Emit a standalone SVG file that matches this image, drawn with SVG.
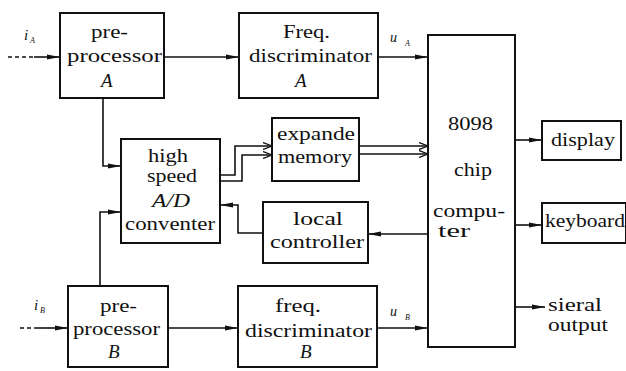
<svg xmlns="http://www.w3.org/2000/svg" width="626" height="371" viewBox="0 0 626 371">
<style>
.box{fill:#fff;stroke:#111;stroke-width:2}
.t{font-family:"Liberation Serif","Times New Roman",serif;font-size:19px;fill:#111}
.i{font-style:italic}
.lb{font-family:"Liberation Serif","Times New Roman",serif;font-style:italic;fill:#111}
.ln{fill:none;stroke:#111;stroke-width:1.6}
.ds{fill:none;stroke:#111;stroke-width:1.4;stroke-dasharray:4 3}
</style>
<defs>
<marker id="ah" markerUnits="userSpaceOnUse" markerWidth="14" markerHeight="8" refX="13" refY="4" orient="auto">
<path d="M0,1.5 L13,4 L0,6.5 z" fill="#111"/>
</marker>
<marker id="op" markerUnits="userSpaceOnUse" markerWidth="10" markerHeight="8" refX="9" refY="4" orient="auto">
<path d="M0,0.5 L9,4 L0,7.5" fill="none" stroke="#111" stroke-width="1.3"/>
</marker>
</defs>
<rect width="626" height="371" fill="#fff"/>
<g id="connectors">
<path class="ds" d="M8,57 H36"/>
<path class="ln" d="M34,57 H60" marker-end="url(#ah)"/>
<path class="ln" d="M164,57 H239" marker-end="url(#ah)"/>
<path class="ln" d="M378,57 H428" marker-end="url(#ah)"/>
<path class="ln" d="M103,98 V166 H121" marker-end="url(#ah)"/>
<path class="ln" d="M100,286 V212 H121" marker-end="url(#ah)"/>
<path class="ln" d="M220,175 H235 V146 H272" marker-end="url(#op)"/>
<path class="ln" d="M220,181 H242 V155 H272" marker-end="url(#op)"/>
<path class="ln" d="M359,146 H428" marker-end="url(#op)"/>
<path class="ln" d="M359,154 H428" marker-end="url(#op)"/>
<path class="ln" d="M428,234 H368" marker-end="url(#ah)"/>
<path class="ln" d="M263,233 H238 V205 H220" marker-end="url(#ah)"/>
<path class="ln" d="M515,140 H542" marker-end="url(#ah)"/>
<path class="ln" d="M515,225 H542" marker-end="url(#ah)"/>
<path class="ln" d="M515,307 H545" marker-end="url(#ah)"/>
<path class="ds" d="M20,328 H40"/>
<path class="ln" d="M38,328 H68" marker-end="url(#ah)"/>
<path class="ln" d="M168,328 H238" marker-end="url(#ah)"/>
<path class="ln" d="M377,328 H428" marker-end="url(#ah)"/>
<text class="lb" x="24" y="40" font-size="15">i</text><text class="lb" x="30" y="43" font-size="8">A</text>
<text class="lb" x="390" y="42" font-size="14">u</text><text class="lb" x="405" y="46" font-size="8">A</text>
<text class="lb" x="34" y="310" font-size="15">i</text><text class="lb" x="40" y="313" font-size="8">B</text>
<text class="lb" x="390" y="316" font-size="14">u</text><text class="lb" x="405" y="320" font-size="8">B</text>
<text class="t" x="548" y="311" textLength="54" lengthAdjust="spacingAndGlyphs">sieral</text>
<text class="t" x="548" y="331" textLength="60" lengthAdjust="spacingAndGlyphs">output</text>
</g>
<g id="preA">
<rect class="box" x="60" y="13" width="104" height="85"/>
<text class="t" x="91" y="38" textLength="37" lengthAdjust="spacingAndGlyphs">pre-</text>
<text class="t" x="67" y="62" textLength="95" lengthAdjust="spacingAndGlyphs">processor</text>
<text class="t i" x="101" y="87">A</text>
</g>
<g id="freqA">
<rect class="box" x="239" y="13" width="139" height="85"/>
<text class="t" x="283" y="38" textLength="47" lengthAdjust="spacingAndGlyphs">Freq.</text>
<text class="t" x="249" y="62" textLength="123" lengthAdjust="spacingAndGlyphs">discriminator</text>
<text class="t i" x="295" y="87">A</text>
</g>
<g id="adc">
<rect class="box" x="121" y="139" width="99" height="104"/>
<text class="t" x="148" y="162" textLength="40" lengthAdjust="spacingAndGlyphs">high</text>
<text class="t" x="147" y="182" textLength="50" lengthAdjust="spacingAndGlyphs">speed</text>
<text class="t i" x="152" y="207" textLength="38" lengthAdjust="spacingAndGlyphs">A/D</text>
<text class="t" x="125" y="230" textLength="90" lengthAdjust="spacingAndGlyphs">conventer</text>
</g>
<g id="memory">
<rect class="box" x="272" y="118" width="87" height="63"/>
<text class="t" x="277" y="140" textLength="78" lengthAdjust="spacingAndGlyphs">expande</text>
<text class="t" x="278" y="163" textLength="74" lengthAdjust="spacingAndGlyphs">memory</text>
</g>
<g id="localctl">
<rect class="box" x="263" y="202" width="105" height="61"/>
<text class="t" x="293" y="225" textLength="50" lengthAdjust="spacingAndGlyphs">local</text>
<text class="t" x="270" y="248" textLength="94" lengthAdjust="spacingAndGlyphs">controller</text>
</g>
<g id="chip">
<rect class="box" x="428" y="35" width="87" height="312"/>
<text class="t" x="448" y="130" textLength="45" lengthAdjust="spacingAndGlyphs">8098</text>
<text class="t" x="454" y="176" textLength="38" lengthAdjust="spacingAndGlyphs">chip</text>
<text class="t" x="433" y="217" textLength="72" lengthAdjust="spacingAndGlyphs">compu-</text>
<text class="t" x="438" y="237" textLength="32" lengthAdjust="spacingAndGlyphs">ter</text>
</g>
<g id="display">
<rect class="box" x="542" y="121" width="79" height="39"/>
<text class="t" x="551" y="146" textLength="64" lengthAdjust="spacingAndGlyphs">display</text>
</g>
<g id="keyboard">
<rect class="box" x="542" y="203" width="84" height="40"/>
<text class="t" x="545" y="227" textLength="80" lengthAdjust="spacingAndGlyphs">keyboard</text>
</g>
<g id="preB">
<rect class="box" x="68" y="286" width="100" height="81"/>
<text class="t" x="100" y="312" textLength="37" lengthAdjust="spacingAndGlyphs">pre-</text>
<text class="t" x="73" y="335" textLength="87" lengthAdjust="spacingAndGlyphs">processor</text>
<text class="t i" x="108" y="358">B</text>
</g>
<g id="freqB">
<rect class="box" x="238" y="286" width="139" height="81"/>
<text class="t" x="275" y="312" textLength="46" lengthAdjust="spacingAndGlyphs">freq.</text>
<text class="t" x="245" y="337" textLength="127" lengthAdjust="spacingAndGlyphs">discriminator</text>
<text class="t i" x="300" y="358">B</text>
</g>
</svg>
